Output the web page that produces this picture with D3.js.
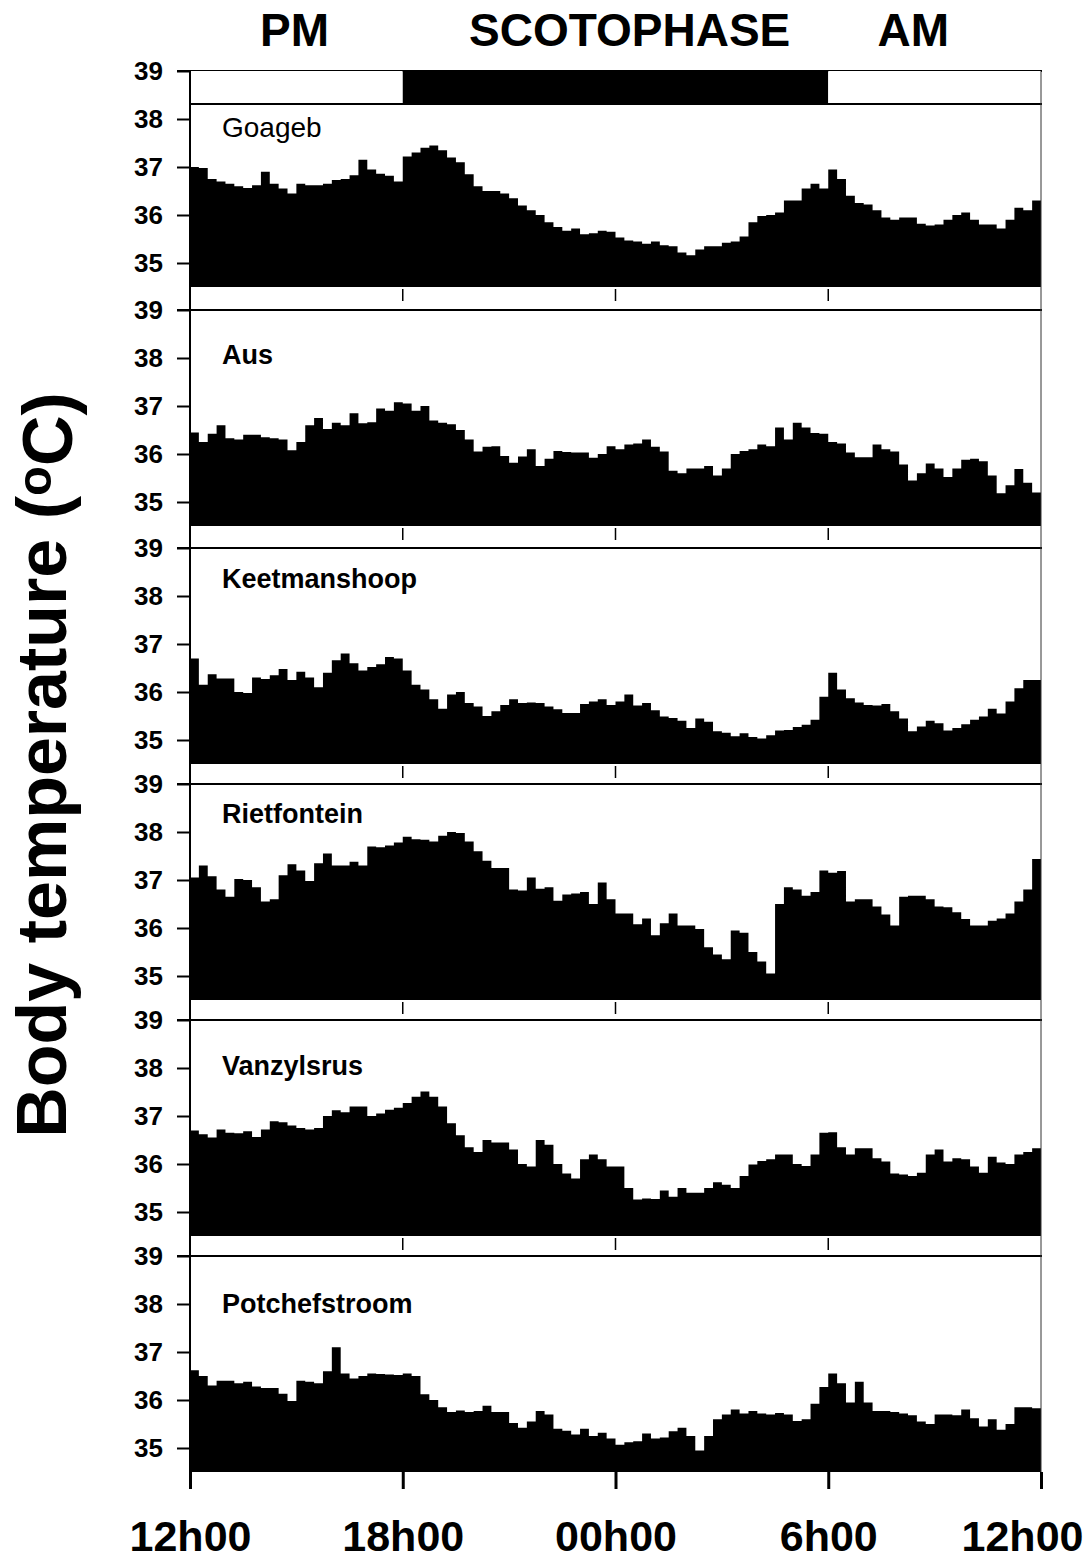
<!DOCTYPE html>
<html>
<head>
<meta charset="utf-8">
<script src="https://cdn.jsdelivr.net/npm/d3@7"></script>
<style>
  body { margin: 0; background: #fff; }
  svg { display: block; }
  text { font-family: Arial, "Liberation Sans", sans-serif; fill: #000; }
</style>
</head>
<body>
<div id="chart"></div>
<script>

// body temperature, one value every 15 min starting at 12h00
var goageb = [
  37.0,36.98,36.75,36.7,36.65,36.6,36.56,36.62,36.9,36.65,
  36.55,36.45,36.65,36.62,36.62,36.65,36.73,36.75,36.83,37.15,
  36.95,36.86,36.82,36.7,37.22,37.3,37.4,37.45,37.35,37.2,
  37.1,36.85,36.6,36.5,36.5,36.45,36.35,36.2,36.1,36.0,
  35.85,35.75,35.67,35.72,35.6,35.62,35.67,35.65,35.53,35.47,
  35.45,35.4,35.45,35.37,35.35,35.22,35.16,35.28,35.35,35.35,
  35.42,35.45,35.55,35.85,35.98,36.0,36.05,36.3,36.3,36.55,
  36.65,36.55,36.95,36.75,36.4,36.25,36.22,36.1,35.95,35.9,
  35.95,35.95,35.82,35.78,35.8,35.9,36.0,36.05,35.9,35.8,
  35.8,35.72,35.9,36.15,36.1,36.3
];
var aus = [
  36.45,36.25,36.42,36.6,36.33,36.3,36.4,36.4,36.35,36.33,
  36.3,36.08,36.25,36.6,36.75,36.52,36.65,36.6,36.85,36.64,
  36.66,36.95,36.9,37.08,37.05,36.9,37.0,36.7,36.65,36.62,
  36.5,36.3,36.05,36.15,36.16,35.96,35.82,35.95,36.1,35.75,
  35.9,36.06,36.04,36.03,36.03,35.92,36.0,36.16,36.1,36.2,
  36.22,36.3,36.15,36.05,35.65,35.6,35.7,35.7,35.75,35.55,
  35.7,36.0,36.06,36.1,36.2,36.16,36.55,36.3,36.65,36.55,
  36.44,36.42,36.25,36.22,36.03,35.93,35.93,36.2,36.1,36.05,
  35.78,35.45,35.6,35.8,35.7,35.52,35.7,35.88,35.9,35.85,
  35.55,35.18,35.35,35.69,35.4,35.2
];
var keetmanshoop = [
  36.7,36.15,36.37,36.28,36.28,36.0,35.98,36.3,36.27,36.35,
  36.48,36.25,36.42,36.3,36.1,36.4,36.66,36.8,36.6,36.45,
  36.52,36.58,36.73,36.7,36.45,36.15,36.05,35.85,35.65,35.95,
  36.0,35.77,35.7,35.5,35.6,35.73,35.85,35.77,35.78,35.77,
  35.7,35.64,35.56,35.56,35.75,35.8,35.85,35.73,35.8,35.95,
  35.72,35.77,35.62,35.49,35.46,35.4,35.25,35.45,35.38,35.18,
  35.15,35.08,35.14,35.06,35.03,35.1,35.2,35.21,35.27,35.32,
  35.42,35.9,36.4,36.05,35.87,35.78,35.73,35.72,35.75,35.6,
  35.45,35.18,35.28,35.4,35.35,35.2,35.25,35.33,35.42,35.49,
  35.65,35.55,35.8,36.08,36.25,36.25
];
var rietfontein = [
  37.05,37.3,37.08,36.8,36.65,37.02,37.0,36.85,36.55,36.6,
  37.1,37.33,37.2,36.98,37.35,37.55,37.3,37.3,37.38,37.3,
  37.7,37.68,37.72,37.78,37.9,37.85,37.84,37.8,37.92,38.0,
  37.98,37.8,37.6,37.4,37.25,37.25,36.8,36.78,37.05,36.82,
  36.85,36.57,36.7,36.72,36.75,36.5,36.95,36.6,36.3,36.3,
  36.08,36.2,35.85,36.1,36.3,36.05,36.05,35.98,35.6,35.45,
  35.35,35.95,35.9,35.5,35.3,35.05,36.5,36.85,36.8,36.67,
  36.75,37.2,37.15,37.19,36.55,36.6,36.6,36.45,36.28,36.05,
  36.65,36.67,36.67,36.6,36.45,36.43,36.33,36.19,36.05,36.05,
  36.15,36.2,36.3,36.55,36.8,37.44
];
var vanzylsrus = [
  36.7,36.62,36.55,36.72,36.65,36.64,36.68,36.56,36.72,36.89,
  36.87,36.8,36.75,36.72,36.75,37.0,37.12,37.08,37.2,37.2,
  37.0,37.05,37.13,37.17,37.27,37.4,37.51,37.4,37.2,36.85,
  36.6,36.35,36.25,36.5,36.45,36.45,36.3,36.0,35.95,36.5,
  36.4,36.0,35.8,35.7,36.1,36.2,36.1,35.95,35.95,35.5,
  35.26,35.28,35.27,35.45,35.32,35.5,35.4,35.4,35.5,35.62,
  35.57,35.5,35.75,35.99,36.06,36.1,36.2,36.2,36.0,35.96,
  36.2,36.65,36.66,36.35,36.2,36.33,36.33,36.12,36.05,35.8,
  35.78,35.75,35.82,36.2,36.3,36.05,36.12,36.1,35.95,35.82,
  36.15,36.03,36.0,36.2,36.25,36.33
];
var potchefstroom = [
  36.62,36.5,36.3,36.4,36.4,36.35,36.38,36.28,36.25,36.25,
  36.13,35.98,36.4,36.38,36.35,36.6,37.1,36.55,36.45,36.5,
  36.55,36.54,36.53,36.52,36.55,36.5,36.12,36.0,35.85,35.75,
  35.78,35.75,35.77,35.88,35.75,35.75,35.52,35.42,35.55,35.77,
  35.7,35.4,35.36,35.28,35.4,35.25,35.32,35.2,35.07,35.12,
  35.14,35.3,35.2,35.22,35.35,35.42,35.25,34.95,35.25,35.6,
  35.7,35.8,35.72,35.77,35.72,35.7,35.73,35.7,35.56,35.6,
  35.92,36.27,36.55,36.35,35.95,36.38,35.95,35.77,35.77,35.75,
  35.72,35.68,35.55,35.5,35.7,35.7,35.68,35.8,35.62,35.45,
  35.6,35.38,35.5,35.85,35.85,35.83
];

var sites = ["Goageb", "Aus", "Keetmanshoop", "Rietfontein", "Vanzylsrus", "Potchefstroom"];
var series = [goageb, aus, keetmanshoop, rietfontein, vanzylsrus, potchefstroom];
var binHours = 0.25;

// hours counted from 12h00
var hourTicks = [0, 6, 12, 18, 24];
var hourLabels = ["12h00", "18h00", "00h00", "6h00", "12h00"];
var tempTicks = [35, 36, 37, 38, 39];

// light / dark bar and the words above it
var phaseFrom = [0, 6, 18];
var phaseTo = [6, 18, 24];
var phaseDark = [false, true, false];
var headerWords = ["PM", "SCOTOPHASE", "AM"];
var headerHours = [2.95, 12.4, 20.4];

var width = 1089, height = 1562;
var left = 190, right = 1041;
var panelTops = [71, 310, 548, 784, 1020, 1256];
var panelH = 216;
var labelDy = [66, 54, 40, 39, 55, 57];

var svg = d3.select("#chart")
  .append("svg")
    .attr("width", width)
    .attr("height", height);

svg.append("rect").attr("width", width).attr("height", height).attr("fill", "#fff");

var x = d3.scaleLinear().domain([0, 24]).range([left, right]);

// header
svg.selectAll(".head")
  .data(headerWords)
  .enter().append("text")
    .attr("class", "head")
    .attr("x", function(d, i) { return x(headerHours[i]); })
    .attr("y", 46)
    .attr("text-anchor", "middle")
    .style("font-size", "46px")
    .style("font-weight", "bold")
    .text(function(d) { return d; });

var lastBottom = panelTops[panelTops.length - 1] + panelH;

series.forEach(function(values, p) {
  var top = panelTops[p];
  var y = d3.scaleLinear().domain([34.5, 39]).range([top + panelH, top]);
  var g = svg.append("g");

  var pts = values.map(function(v, i) { return {h: i * binHours, v: v}; });
  pts.push({h: 24, v: values[values.length - 1]});

  g.append("path")
    .datum(pts)
    .attr("fill", "#000")
    .attr("d", d3.area()
      .curve(d3.curveStepAfter)
      .x(function(d) { return x(d.h); })
      .y0(y(34.5))
      .y1(function(d) { return y(d.v); }));

  // y axis
  var ya = g.append("g")
    .attr("transform", "translate(" + left + ",0)")
    .call(d3.axisLeft(y).tickValues(tempTicks).tickFormat(d3.format("d"))
      .tickSize(13).tickPadding(14));
  ya.select(".domain").remove();
  ya.selectAll("line").attr("stroke", "#000").attr("stroke-width", 2);
  ya.selectAll("text")
    .style("font-size", "26px")
    .style("font-weight", "bold")
    .attr("font-family", null);

  // top frame line at 39
  g.append("line")
    .attr("x1", left - 13).attr("x2", right + 1)
    .attr("y1", y(39)).attr("y2", y(39))
    .attr("stroke", "#000").attr("stroke-width", 2);

  if (p === 0) {
    var barH = 33;
    g.selectAll(".phase")
      .data(phaseFrom)
      .enter().append("rect")
        .attr("x", function(d) { return x(d); })
        .attr("width", function(d, i) { return x(phaseTo[i]) - x(d); })
        .attr("y", y(39))
        .attr("height", barH)
        .attr("fill", function(d, i) { return phaseDark[i] ? "#000" : "#fff"; });
    g.append("line")
      .attr("x1", left).attr("x2", right + 1)
      .attr("y1", y(39) + barH).attr("y2", y(39) + barH)
      .attr("stroke", "#000").attr("stroke-width", 2);
  }

  g.append("text")
    .attr("x", 222)
    .attr("y", top + labelDy[p])
    .style("font-size", p === 0 ? "28px" : "27px")
    .style("font-weight", p === 0 ? "normal" : "bold")
    .text(sites[p]);

  if (p < series.length - 1) {
    // small time ticks in the gap under each panel
    g.selectAll(".xt")
      .data(hourTicks.slice(1, 4))
      .enter().append("line")
        .attr("x1", function(d) { return x(d); })
        .attr("x2", function(d) { return x(d); })
        .attr("y1", y(34.5) + 2)
        .attr("y2", y(34.5) + 14)
        .attr("stroke", "#000").attr("stroke-width", 1.5);
  } else {
    var xa = g.append("g")
      .attr("transform", "translate(0," + y(34.5) + ")")
      .call(d3.axisBottom(x).tickValues(hourTicks)
        .tickFormat(function(d, i) { return hourLabels[i]; })
        .tickSize(17).tickPadding(31));
    xa.select(".domain").remove();
    xa.selectAll("line").attr("stroke", "#000").attr("stroke-width", 3);
    xa.selectAll("text")
      .style("font-size", "43px")
      .style("font-weight", "bold")
      .attr("font-family", null);
    xa.selectAll("text").filter(function(d) { return d === 24; }).attr("dx", -19);
  }
});

// left axis line and right frame line
svg.append("line")
  .attr("x1", left).attr("x2", left)
  .attr("y1", panelTops[0]).attr("y2", lastBottom + 17)
  .attr("stroke", "#000").attr("stroke-width", 2);
svg.append("line")
  .attr("x1", right).attr("x2", right)
  .attr("y1", panelTops[0]).attr("y2", lastBottom)
  .attr("stroke", "#333").attr("stroke-width", 1);

// y title
svg.append("text")
  .attr("transform", "translate(66,765) rotate(-90)")
  .attr("text-anchor", "middle")
  .style("font-size", "70px")
  .style("font-weight", "bold")
  .call(function(t) {
    t.append("tspan").text("Body temperature (");
    t.append("tspan").attr("dy", "-0.3em").style("font-size", "49px").text("o");
    t.append("tspan").attr("dy", "0.3em").text("C)");
  });

</script>
</body>
</html>
